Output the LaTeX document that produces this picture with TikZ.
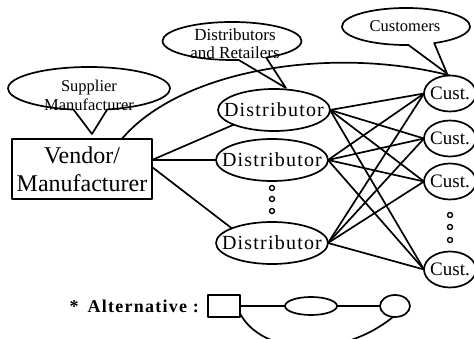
\documentclass[tikz,border=0pt]{standalone}
\usepackage{fontspec}
\setmainfont{Liberation Serif}
\usetikzlibrary{shapes.geometric,shapes.callouts}

% text that does not widen the shape around it
\newcommand{\tightlabel}[1]{\makebox[0pt][c]{#1}}

\begin{document}
\begin{tikzpicture}[x=1pt,y=-1pt,
  line width=1.7pt, line join=round,
  every node/.style={inner sep=0pt, outer sep=0pt},
  bubble/.style={ellipse callout, draw, callout pointer arc=24},
  bubbletext/.style={font=\fontsize{16.5}{18.5}\selectfont, align=center},
  vendorbox/.style={draw, rectangle, minimum width=140pt, minimum height=60pt,
    font=\fontsize{24}{28}\selectfont, align=center},
  dist/.style={draw, ellipse, minimum width=112pt, minimum height=42pt,
    font=\fontsize{20}{22}\selectfont\addfontfeature{LetterSpace=6}},
  cust/.style={draw, ellipse, minimum width=52pt, minimum height=36pt,
    font=\fontsize{19}{20}\selectfont},
  dotmark/.style={draw, circle, minimum size=5pt, line width=1.4pt},
]
\useasboundingbox (0,0) rectangle (474,339);
\clip (0,0) rectangle (474,339);

% main chain
\node[vendorbox] (vendor) at (82,169) {Vendor/\\Manufacturer};

\node[dist] (d1) at (274,110) {\tightlabel{Distributor}};
\node[dist] (d2) at (272,160) {\tightlabel{Distributor}};
\node[dist] (d3) at (272,243) {\tightlabel{Distributor}};

\node[cust] (c1) at (450,93.5)  {\tightlabel{Cust.}};
\node[cust] (c2) at (450,138.5) {\tightlabel{Cust.}};
\node[cust] (c3) at (450,181.5) {\tightlabel{Cust.}};
\node[cust] (c4) at (450,269.5) {\tightlabel{Cust.}};

% vertical ellipses
\node[dotmark] (dd1) at (272,188) {};
\node[dotmark] (dd2) at (272,199) {};
\node[dotmark] (dd3) at (272,211) {};
\node[dotmark] (cd1) at (450,215) {};
\node[dotmark] (cd2) at (450,227) {};
\node[dotmark] (cd3) at (450,240) {};

% callouts
\node[bubble, minimum width=162pt, minimum height=43pt,
  callout absolute pointer={([xshift=10pt,yshift=5pt]vendor.north)}] (supb) at (89,88.5) {};
\node[bubble, minimum width=139pt, minimum height=38pt,
  callout absolute pointer={([xshift=12pt,yshift=1pt]d1.north)}] (distb) at (232,41) {};
\node[bubble, minimum width=128pt, minimum height=37pt,
  callout absolute pointer={([xshift=-3pt,yshift=2pt]c1.north)}] (custb) at (406,26.5) {};

\node[bubbletext] (supt) at (89,95.5) {Supplier\\Manufacturer};
\node[bubbletext, font=\fontsize{17}{18}\selectfont] (distt) at (235,43.5) {Distributors\\and Retailers};
\node[bubbletext] (custt) at (405,26.5) {Customers};

% vendor to distributors
\draw ([yshift=9pt]vendor.east) -- (d1.200);
\draw ([yshift=9pt]vendor.east) -- (d2.west);
\draw ([yshift=2pt]vendor.east) -- (d3.160);

% direct vendor to customer link
\draw (vendor.37) .. controls (180,70) and (330,45) .. (c1.north);

% distributors to customers
\foreach \dn in {d1,d2,d3}
  \foreach \cn in {c1,c2,c3,c4}
    \draw (\dn.east) -- (\cn.west);

% alternative arrangement
\node[font=\fontsize{18}{20}\selectfont\bfseries\addfontfeature{LetterSpace=7},
  anchor=base east] (alt) at (199,312) {*\hspace{9pt}Alternative :};
\node[draw, minimum width=32pt, minimum height=22pt] (abox) at (224,306) {};
\node[draw, ellipse, minimum width=52pt, minimum height=18pt] (aell) at (311,306) {};
\node[draw, ellipse, minimum width=30pt, minimum height=22pt] (acirc) at (395,306) {};
\draw (abox.east) -- (aell.west);
\draw (aell.east) -- (acirc.west);
\draw (abox.-25) .. controls (262,355) and (340,360) .. (acirc.260);
\end{tikzpicture}
\end{document}
